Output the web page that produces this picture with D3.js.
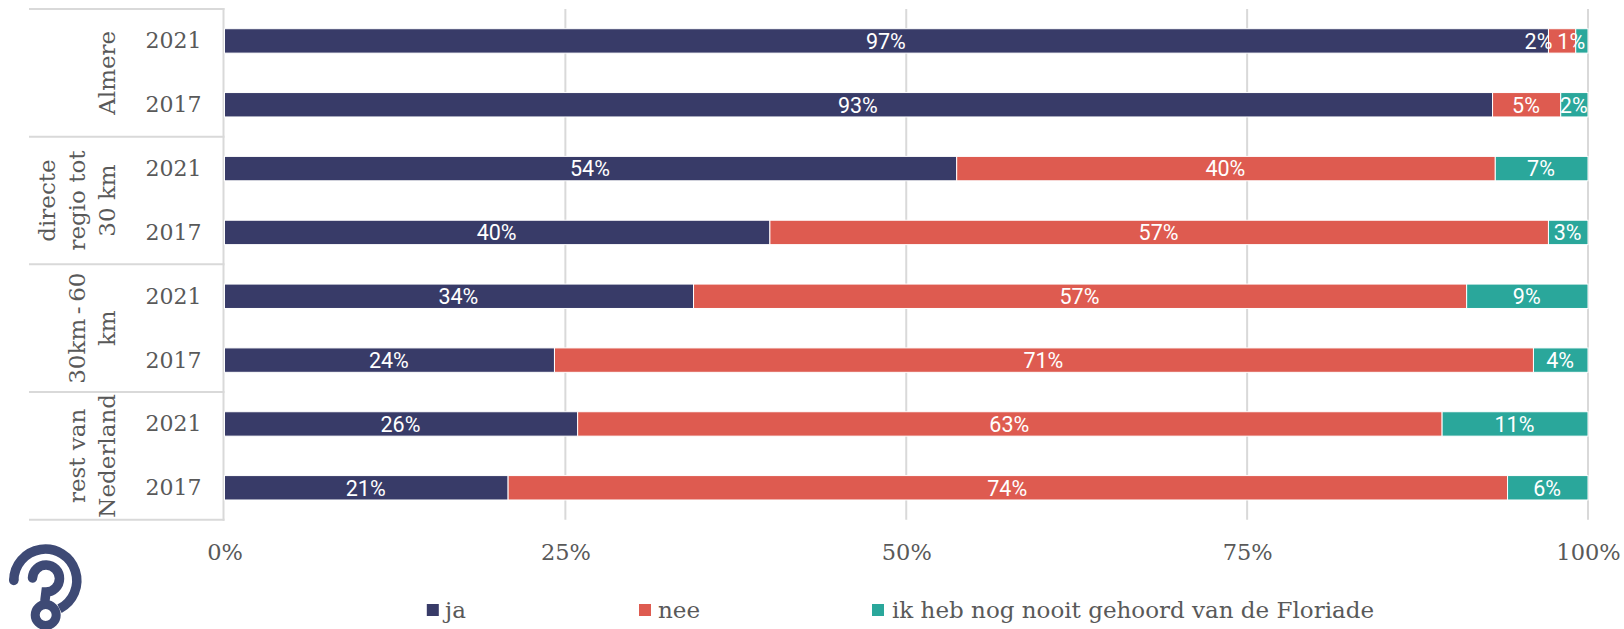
<!DOCTYPE html>
<html><head><meta charset="utf-8">
<script src="https://cdn.jsdelivr.net/npm/d3@7/dist/d3.min.js"></script>
<style>html,body{margin:0;padding:0;background:#fff}svg{display:block}</style>
</head><body><svg id="c" width="1624" height="629"></svg>
<script>
const regions = [["Almere"], ["directe","regio tot","30 km"], ["30km\u2009-\u200960","km"], ["rest van","Nederland"]];
const years = ["2021","2017"];
const seriesNames = ["ja","nee","ik heb nog nooit gehoord van de Floriade"];
const colors = ["#383b68","#de5b50","#2aa79b"];
const ja  = [97.1,93.0,53.7,40.0,34.4,24.2,25.9,20.8];
const nee = [2.0,5.0,39.5,57.1,56.7,71.8,63.4,73.3];
const ik  = [0.9,2.0,6.8,2.9,8.9,4.0,10.7,5.9];
const jaLabels  = ["97%","93%","54%","40%","34%","24%","26%","21%"];
const neeLabels = ["2%","5%","40%","57%","57%","71%","63%","74%"];
const ikLabels  = ["1%","2%","7%","3%","9%","4%","11%","6%"];
const ticks = [0,25,50,75,100];
const serif = "'DejaVu Serif',serif";
const ink = "#595959", gridC = "#d9d9d9";

const svg = d3.select("#c");
const x = d3.scaleLinear().domain([0,100]).range([224.5,1588]);
const rows = d3.range(8);
const y = d3.scaleBand().domain(rows).range([9,519.7]);
const barH = 24.4;
const rowY = i => y(i)+y.bandwidth()/2;

// gridlines
svg.append("g").selectAll("line").data(ticks.slice(1)).join("line")
  .attr("x1",d=>x(d)).attr("x2",d=>x(d)).attr("y1",9).attr("y2",519.7)
  .attr("stroke",gridC).attr("stroke-width",2);
// left axis and group separators
svg.append("line").attr("x1",223.5).attr("x2",223.5).attr("y1",8).attr("y2",520.7).attr("stroke",gridC).attr("stroke-width",2);
svg.append("g").selectAll("line").data(d3.range(5)).join("line")
  .attr("x1",29).attr("x2",224.5)
  .attr("y1",d=>y.range()[0]+d*2*y.bandwidth()).attr("y2",d=>y.range()[0]+d*2*y.bandwidth())
  .attr("stroke",gridC).attr("stroke-width",2);

// bars
const labelSets = [jaLabels,neeLabels,ikLabels];
const stack = rows.map(i=>{let c=0;return [ja[i],nee[i],ik[i]].map((v,s)=>{const o={i,s,v,a:c,b:c+v,label:labelSets[s][i]};c+=v;return o;});}).flat();
svg.append("g").selectAll("rect").data(stack).join("rect")
  .attr("x",d=>x(d.a)).attr("width",d=>x(Math.min(d.b,100))-x(d.a))
  .attr("y",d=>rowY(d.i)-barH/2).attr("height",barH)
  .attr("fill",d=>colors[d.s]).attr("stroke","#fff").attr("stroke-width",1);
// the two narrow segments of the top row have their labels pushed apart
const nudge = d => d.i===0 ? (d.s===1 ? -23 : d.s===2 ? -10 : 0) : 0;
svg.append("g").selectAll("text").data(stack).join("text")
  .attr("x",d=>x((d.a+Math.min(d.b,100))/2)+nudge(d)-0.6).attr("y",d=>rowY(d.i)+7.8)
  .attr("text-anchor","middle").attr("fill","#fff")
  .style("font","21.5px Roboto").text(d=>d.label);

// year labels
svg.append("g").selectAll("text").data(rows).join("text")
  .attr("x",201.5).attr("y",i=>rowY(i)+7.5).attr("text-anchor","end").attr("fill",ink)
  .style("font",`22px ${serif}`).text(i=>years[i%2]);

// region labels
const lineX = [115,84.5,54.5];
regions.forEach((lines,g)=>{
  const cy = y.range()[0]+(2*g+1)*y.bandwidth();
  lines.slice().reverse().forEach((t,k)=>{
    svg.append("text").attr("transform",`translate(${lineX[k]},${cy}) rotate(-90)`)
      .attr("text-anchor","middle").attr("fill",ink)
      .style("font",`23px ${serif}`).text(t);
  });
});

// x axis
const ax = svg.append("g").attr("transform","translate(0,534)")
  .call(d3.axisBottom(x).tickValues(ticks).tickFormat(d=>d+"%").tickSize(0).tickPadding(8));
ax.select(".domain").remove();
ax.selectAll("text").attr("fill",ink).style("font",`22.5px ${serif}`).attr("dy",null).attr("y",26);

// legend
const legX = [426.8,639,872], legT = [445,658,892];
seriesNames.forEach((n,k)=>{
  svg.append("rect").attr("x",legX[k]).attr("y",604).attr("width",12).attr("height",12).attr("fill",colors[k]);
  svg.append("text").attr("x",legT[k]).attr("y",618).attr("fill",ink).style("font",`23px ${serif}`).text(n);
});

// logo
const logo = svg.append("g").attr("fill","none").attr("stroke","#3e4a75");
logo.append("path").attr("stroke-width",9.5).attr("d","M13.8 580.5 A31.5 31.5 0 1 1 59.5 608.7");
logo.append("circle").attr("cx",13.8).attr("cy",580.5).attr("r",4.75).attr("fill","#3e4a75").attr("stroke","none");
logo.append("path").attr("stroke-width",9.5).attr("stroke-linecap","round").attr("d","M32.5 578 A13.5 13.5 0 1 1 46 592 L45 600");
logo.append("circle").attr("cx",45.7).attr("cy",615).attr("r",10.5).attr("stroke-width",9);
</script></body></html>
